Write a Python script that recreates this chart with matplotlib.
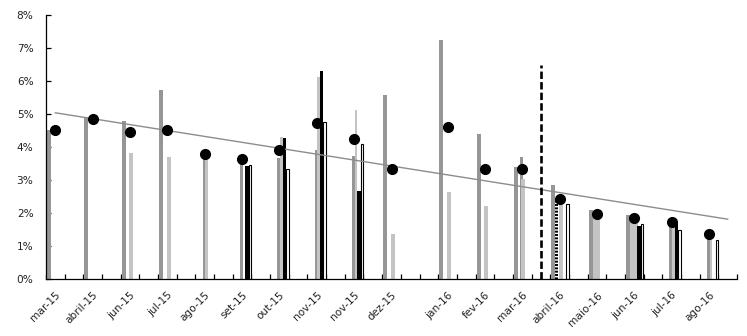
import numpy as np
import matplotlib
matplotlib.use('Agg')
import matplotlib.pyplot as plt

nan = np.nan

# category axis (blank entries are unlabeled categories)
categories = ['mar-15', '', 'abril-15', '', 'jun-15', '', 'jul-15', '', 'ago-15', '',
              'set-15', '', 'out-15', '', 'nov-15', '', 'nov-15', '', 'dez-15', '', '',
              'jan-16', '', 'fev-16', '', 'mar-16', '', 'abril-16', '', 'maio-16', '',
              'jun-16', '', 'jul-16', '', 'ago-16', '']
months = [c for c in categories if c]

# values (%) for the labeled months, in order
dots        = [4.53, 4.84, 4.44, 4.53, 3.78, 3.65, 3.90, 4.72, 4.24, 3.32, 4.62, 3.32, 3.33, 2.42, 1.96, 1.84, 1.74, 1.36]
dark_wide   = [4.53, 4.90, 4.80, 5.73, nan, nan, nan, nan, nan, 5.58, 7.24, 4.39, 3.38, 2.85, 2.09, 1.94, nan, nan]
light_pos1  = [nan, nan, nan, nan, nan, nan, nan, nan, nan, nan, nan, nan, nan, nan, 2.00, 1.85, nan, nan]
dotted      = [nan, nan, nan, nan, nan, nan, nan, nan, nan, nan, nan, nan, nan, 2.45, nan, nan, nan, nan]
light_wide  = [nan, nan, 3.81, 3.70, nan, nan, nan, nan, nan, 1.35, 2.63, 2.22, 3.02, 2.40, 2.00, 1.85, nan, nan]
dark_narrow = [nan, nan, nan, nan, 3.76, 3.55, 3.68, 3.90, 3.74, nan, nan, nan, 3.70, nan, nan, nan, 1.72, 1.35]
light_narrow= [nan, nan, nan, nan, 3.70, nan, 4.30, 6.13, 5.12, nan, nan, nan, nan, nan, nan, nan, 1.70, 1.30]
black_bar   = [nan, nan, nan, nan, nan, 3.43, 4.28, 6.30, 2.67, nan, nan, nan, nan, nan, nan, 1.60, 1.68, nan]
white_bar   = [nan, nan, nan, nan, nan, 3.45, 3.32, 4.75, 4.09, nan, nan, nan, nan, 2.28, nan, 1.66, 1.48, 1.18]
divider_value = 6.5

y_ticks = [0, 1, 2, 3, 4, 5, 6, 7, 8]

x_idx = np.array([i for i, c in enumerate(categories) if c])
n_cat = len(categories)

W, H = 747, 336
fig = plt.figure(figsize=(W / 100, H / 100), dpi=100)
ax_l, ax_r, ax_t, ax_b = 46, 737, 15, 279
ax = fig.add_axes([ax_l / W, (H - ax_b) / H, (ax_r - ax_l) / W, (ax_b - ax_t) / H])
SLOT_PX = (ax_r - ax_l) / n_cat

DARK = '#969696'
LIGHT = '#c4c4c4'
plt.rcParams['hatch.linewidth'] = 1.4


def bars(vals, px0, px1, **kw):
    v = np.array(vals, float)
    m = ~np.isnan(v)
    left = x_idx[m] - 0.5 + px0 / SLOT_PX
    ax.bar(left, v[m], width=(px1 - px0) / SLOT_PX, align='edge', zorder=2, **kw)


bars(dark_narrow, 7.2, 10.0, color=DARK, linewidth=0)
bars(light_narrow, 10.0, 12.6, color=LIGHT, linewidth=0)
bars(light_pos1, 4.6, 8.6, color=LIGHT, linewidth=0)
bars(dotted, 3.8, 7.4, facecolor='white', edgecolor='black', hatch='-----', linewidth=0)
bars(dark_wide, 1.0, 5.0, color=DARK, linewidth=0)
bars(light_wide, 8.6, 12.6, color=LIGHT, linewidth=0)
bars(black_bar, 12.4, 15.8, color='black', linewidth=0)
bars(white_bar, 15.9, 18.4, facecolor='white', edgecolor='black', linewidth=0.8)

# linear trend of the dot series over the category index
coef = np.polyfit(x_idx, dots, 1)
xt = np.array([0, n_cat - 1])
ax.plot(xt, np.polyval(coef, xt), color='#8c8c8c', linewidth=1.0, zorder=3)

# vertical dashed divider between mar-16 and abril-16
xd = (categories.index('mar-16') + categories.index('abril-16')) / 2
ax.plot([xd, xd], [0, divider_value], color='black', linewidth=1.9,
        dashes=(2.8, 1.2), zorder=3)

ax.plot(x_idx, dots, linestyle='none', marker='o', markersize=7,
        color='black', zorder=4)

ax.set_xlim(-0.5, n_cat - 0.5)
ax.set_ylim(0, 8)
ax.set_yticks(y_ticks)
ax.set_yticklabels([f'{v}%' for v in y_ticks])
ax.set_xticks(x_idx)
ax.set_xticklabels(months, rotation=45, ha='right', rotation_mode='anchor')
ax.set_xticks(np.arange(-0.5, n_cat, 1), minor=True)

for s in ['top', 'right']:
    ax.spines[s].set_visible(False)
for s in ['left', 'bottom']:
    ax.spines[s].set_linewidth(0.9)
    ax.spines[s].set_color('black')

ax.tick_params(axis='y', direction='in', length=3.6, width=0.9, pad=9,
               labelsize=7.6, labelcolor='#222222')
ax.tick_params(axis='x', which='major', length=0, pad=8,
               labelsize=7.6, labelcolor='#222222')
ax.tick_params(axis='x', which='minor', direction='in', length=3.6, width=0.9)

fig.savefig('out.png', dpi=100)
